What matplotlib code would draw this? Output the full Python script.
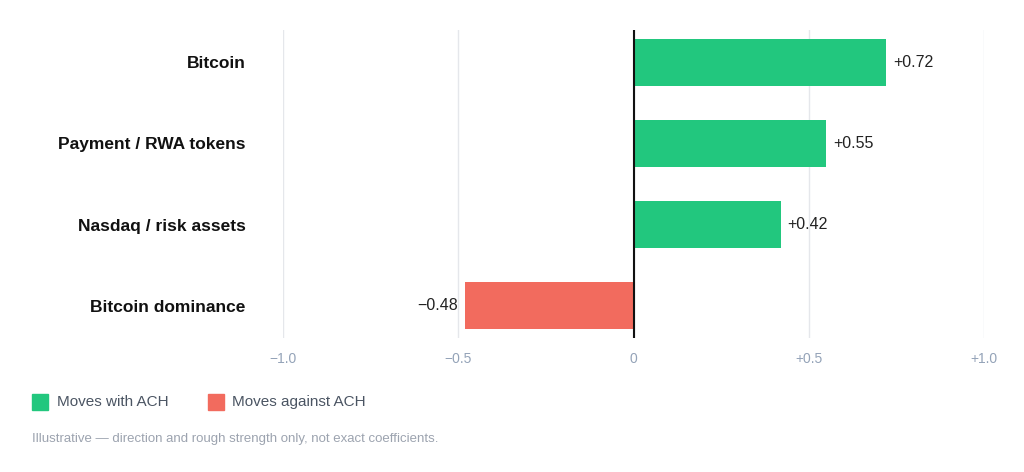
import matplotlib
matplotlib.use("Agg")
import matplotlib.pyplot as plt
from matplotlib.patches import Rectangle

categories = ["Bitcoin", "Payment / RWA tokens", "Nasdaq / risk assets", "Bitcoin dominance"]
values = [0.72, 0.55, 0.42, -0.48]
value_labels = ["+0.72", "+0.55", "+0.42", "\u22120.48"]
tick_vals = [-1.0, -0.5, 0, 0.5, 1.0]
tick_labels = ["\u22121.0", "\u22120.5", "0", "+0.5", "+1.0"]

GREEN = "#22c77e"
RED = "#f26b5e"

plt.rcParams['font.family'] = ['Liberation Sans', 'DejaVu Sans']
fig = plt.figure(figsize=(10.24, 4.72), dpi=100)
ax = fig.add_axes([283/1024, 1-338/472, 701/1024, 308/472])
ypos = list(range(len(categories)))
colors = [GREEN if v >= 0 else RED for v in values]
ax.barh(ypos, values, height=0.57, color=colors, zorder=3)
ax.set_xlim(-1.0, 1.0)
ax.set_ylim(3.4, -0.4)
ax.set_xticks(tick_vals)
ax.set_xticklabels(tick_labels, color="#94a3b8", fontsize=10)
ax.set_yticks(ypos)
ax.set_yticklabels(categories, fontsize=12.5, fontweight="bold", color="#111111")
ax.tick_params(axis='both', length=0)
ax.tick_params(axis='y', pad=27)
ax.tick_params(axis='x', pad=10)
for s in ax.spines.values():
    s.set_visible(False)
ax.grid(axis='x', color="#e5e7eb", linewidth=1, zorder=0)
ax.axvline(0, color="#111111", linewidth=1.5, zorder=4)
for y, v, lab in zip(ypos, values, value_labels):
    if v >= 0:
        ax.text(v + 0.02, y, lab, va='center', ha='left', fontsize=11.5, color="#222222")
    else:
        ax.text(v - 0.02, y, lab, va='center', ha='right', fontsize=11.5, color="#222222")

fig.patches.append(Rectangle((32/1024, 1-410/472), 16/1024, 16/472, transform=fig.transFigure, color=GREEN, figure=fig))
fig.text(57/1024, 1-402/472, "Moves with ACH", va='center', fontsize=11, color="#4b5563")
fig.patches.append(Rectangle((208/1024, 1-410/472), 16/1024, 16/472, transform=fig.transFigure, color=RED, figure=fig))
fig.text(232/1024, 1-402/472, "Moves against ACH", va='center', fontsize=11, color="#4b5563")
fig.text(32/1024, 1-439/472, "Illustrative \u2014 direction and rough strength only, not exact coefficients.",
         va='center', fontsize=9.5, color="#9ca3af")
fig.savefig("out.png", dpi=100, facecolor="white")
